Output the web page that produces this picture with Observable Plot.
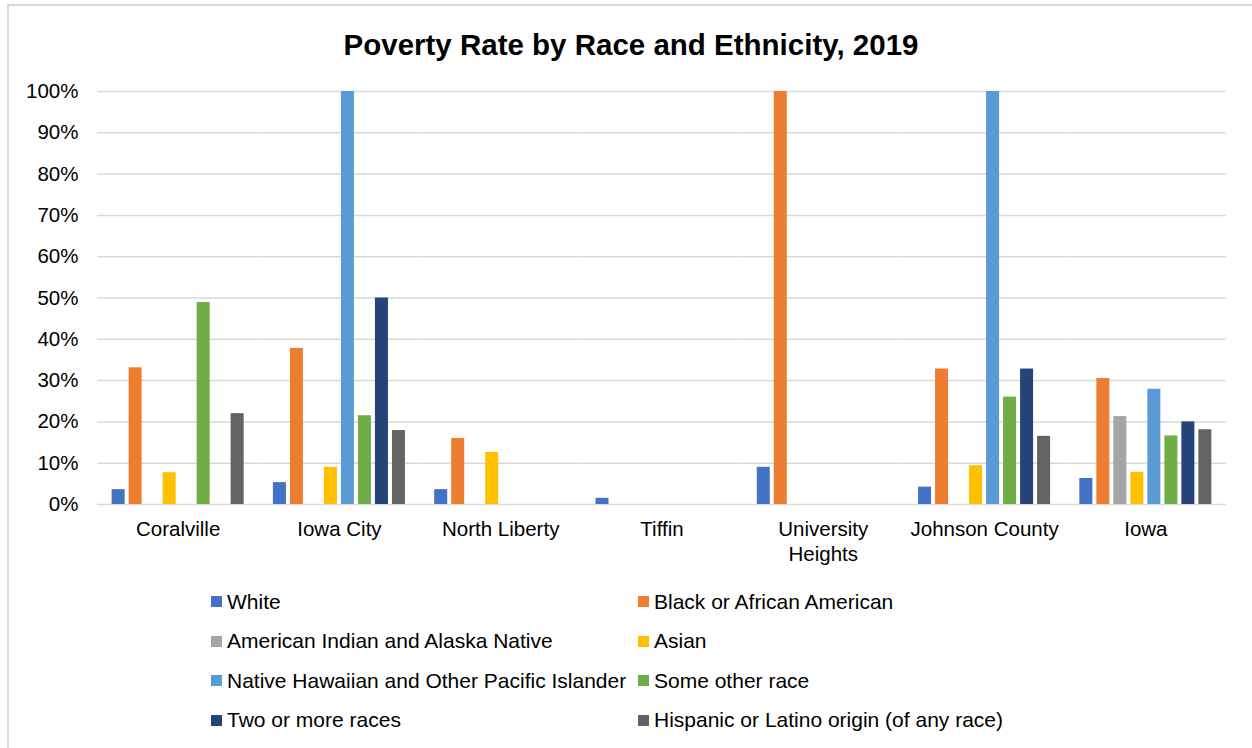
<!DOCTYPE html>
<html>
<head>
<meta charset="utf-8">
<script src="https://cdn.jsdelivr.net/npm/d3@7"></script>
<script src="https://cdn.jsdelivr.net/npm/@observablehq/plot@0.6"></script>
<style>
  html, body { margin: 0; padding: 0; background: #fff; overflow: hidden; width: 1252px; height: 748px; }
  body { position: relative; font-family: "Liberation Sans", Arial, sans-serif; color: #000; }
  #frame { position: absolute; left: 7px; top: 4px; width: 1260px; height: 760px; border: 2px solid #d9d9d9; box-sizing: border-box; }
  #title { position: absolute; left: 0; top: 27px; width: 1262px; text-align: center; font-weight: bold; font-size: 29.5px; line-height: 36px; }
  #chart { position: absolute; left: 0; top: 75px; }
  #legend { position: absolute; left: 211px; top: 582px; display: grid; grid-template-columns: 427px auto; grid-auto-rows: 39.5px; align-items: center; font-size: 21px; }
  .item { display: flex; align-items: center; white-space: nowrap; }
  .sw { width: 11px; height: 11px; margin-right: 5px; flex: none; }
</style>
</head>
<body>
<div id="frame"></div>
<div id="title">Poverty Rate by Race and Ethnicity, 2019</div>
<div id="chart"></div>
<div id="legend"></div>
<script>
const cities = ["Coralville", "Iowa City", "North Liberty", "Tiffin", "University Heights", "Johnson County", "Iowa"];
const cityLabels = ["Coralville", "Iowa City", "North Liberty", "Tiffin", "University\nHeights", "Johnson County", "Iowa"];
const races = [
  "White",
  "Black or African American",
  "American Indian and Alaska Native",
  "Asian",
  "Native Hawaiian and Other Pacific Islander",
  "Some other race",
  "Two or more races",
  "Hispanic or Latino origin (of any race)"
];
const colors = ["#4472c4", "#ed7d31", "#a5a5a5", "#ffc000", "#5b9bd5", "#70ad47", "#264478", "#636363"];

// percent values by city (null = no bar)
const white    = [3.6, 5.3, 3.6, 1.5, 9.0, 4.2, 6.3];
const black    = [33.1, 37.8, 16.0, null, 100, 32.8, 30.5];
const aian     = [null, null, null, null, null, null, 21.3];
const asian    = [7.7, 9.0, 12.6, null, null, 9.4, 7.8];
const nhpi     = [null, 100, null, null, null, 100, 27.9];
const other    = [48.9, 21.5, null, null, null, 26.0, 16.6];
const twoMore  = [null, 50.0, null, null, null, 32.8, 20.0];
const hispanic = [22.0, 17.9, null, null, null, 16.5, 18.1];
const yTicks = [0, 0.1, 0.2, 0.3, 0.4, 0.5, 0.6, 0.7, 0.8, 0.9, 1.0];

const series = [white, black, aian, asian, nhpi, other, twoMore, hispanic];
const data = [];
races.forEach((r, i) => {
  cities.forEach((c, j) => {
    const v = series[i][j];
    if (v != null) data.push({city: c, race: r, value: v / 100});
  });
});
const labelMap = new Map(cities.map((c, i) => [c, cityLabels[i]]));

const chart = Plot.plot({
  width: 1252,
  height: 500,
  marginTop: 16,
  marginBottom: 71,
  marginLeft: 97,
  marginRight: 26,
  style: {fontFamily: "'Liberation Sans', Arial, sans-serif", fontSize: "20.5px", color: "#000", background: "transparent"},
  fx: {domain: cities, padding: 0, round: false, label: null},
  x: {domain: races, paddingInner: 0.235, paddingOuter: 0.86, round: false, axis: null},
  y: {domain: [0, 1]},
  color: {domain: races, range: colors},
  marks: [
    Plot.gridY(yTicks, {stroke: "#d9d9d9", strokeOpacity: 1, strokeWidth: 1.5}),
    Plot.barY(data, {fx: "city", x: "race", y: "value", fill: "race"}),
    Plot.axisY(yTicks, {tickSize: 0, tickPadding: 19, tickFormat: d3.format(".0%"), label: null, fill: "#000"}),
    Plot.axisFx({anchor: "bottom", tickSize: 0, tickPadding: 14, lineHeight: 1.22, label: null, fill: "#000", tickFormat: d => labelMap.get(d)})
  ]
});
document.getElementById("chart").appendChild(chart);

const legend = document.getElementById("legend");
races.forEach((r, i) => {
  const item = document.createElement("div");
  item.className = "item";
  const sw = document.createElement("span");
  sw.className = "sw";
  sw.style.background = colors[i];
  const t = document.createElement("span");
  t.textContent = r;
  item.appendChild(sw);
  item.appendChild(t);
  legend.appendChild(item);
});
</script>
</body>
</html>
